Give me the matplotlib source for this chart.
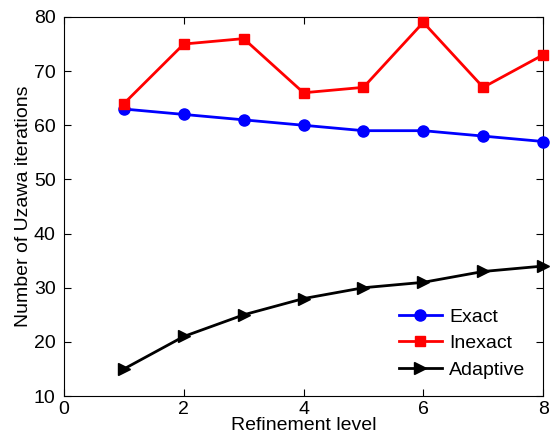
import matplotlib
matplotlib.use("Agg")
import matplotlib.pyplot as plt

plt.rcParams['font.family'] = ['Liberation Sans', 'DejaVu Sans']

levels = [1, 2, 3, 4, 5, 6, 7, 8]
exact = [63, 62, 61, 60, 59, 59, 58, 57]
inexact = [64, 75, 76, 66, 67, 79, 67, 73]
adaptive = [15, 21, 25, 28, 30, 31, 33, 34]

fig = plt.figure(figsize=(5.5, 4.46), dpi=100)
ax = fig.add_axes([0.1164, 0.112, 0.871, 0.85])

ax.plot(levels, exact, '-o', color='#0000ff', lw=2, ms=8, label='Exact', clip_on=False, zorder=3)
ax.plot(levels, inexact, '-s', color='#ff0000', lw=2, ms=6.5, label='Inexact', clip_on=False, zorder=3)
ax.plot(levels, adaptive, '->', color='k', lw=2, ms=9, label='Adaptive', clip_on=False, zorder=3)

ax.set_xlim(0, 8)
ax.set_ylim(10, 80)
ax.set_xticks([0, 2, 4, 6, 8])
ax.set_yticks(range(10, 81, 10))
ax.tick_params(direction='in', top=True, right=True, labelsize=14, length=5)
ax.tick_params(axis='x', pad=3.5)
ax.tick_params(axis='y', pad=6)
ax.set_xlabel('Refinement level', fontsize=14, labelpad=-1)
ax.set_ylabel('Number of Uzawa iterations', fontsize=14, labelpad=1)

ax.legend(loc='lower right', frameon=False, fontsize=14, handlelength=2.2,
          borderaxespad=0.5, labelspacing=0.45, handletextpad=0.4)

fig.savefig('out.png', dpi=100)
